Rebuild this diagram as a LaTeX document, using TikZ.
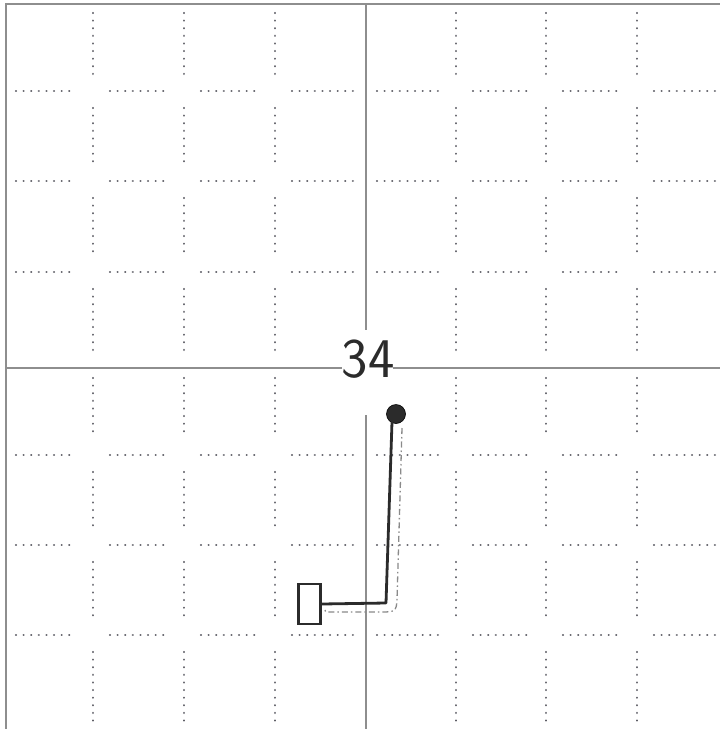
\documentclass[tikz,border=0pt]{standalone}
\usetikzlibrary{calc}
\definecolor{gridgray}{HTML}{8E8E8E}
\definecolor{dotgray}{HTML}{5E5E66}
\definecolor{ink}{HTML}{2B2B2B}
\definecolor{tracegray}{HTML}{8A8A8A}
\begin{document}
\begin{tikzpicture}[x=1pt,y=-1pt,
  solidgrid/.style={draw=gridgray,line width=1.1pt},
  dotgrid/.style={draw=dotgray,line width=2.3pt,line cap=round,dash pattern=on 0.01pt off 7.6pt},
  inkline/.style={draw=ink,line width=2.8pt,line join=round,line cap=round},
  tracepath/.style={draw=tracegray,line width=1.3pt,dash pattern=on 6pt off 3pt on 1.5pt off 3pt},
  labeltext/.style={font=\sffamily\fontsize{56}{56}\selectfont,text=ink,inner sep=0pt},
]
\useasboundingbox (0,0) rectangle (720,729);
\fill[white] (0,0) rectangle (720,729);
% sheet border (left and top)
\draw[solidgrid] (6,729) -- (6,4) -- (720,4);
% main axes, broken around the label
\draw[solidgrid] (366,4) -- (366,330);
\draw[solidgrid] (366,415) -- (366,729);
\draw[solidgrid] (6,368) -- (342,368);
\draw[solidgrid] (393,368) -- (720,368);
% dotted grid, vertical
\foreach \x in {93,184,275,456,546,637}{
  \foreach \a/\b in {13/74,108/164,198/255,289/357,378/438,472/528,562/618,652/727}{
    \draw[dotgrid] (\x,\a) -- (\x,\b);
  }
}
% dotted grid, horizontal
\foreach \y in {91,181,272,455,545,635}{
  \foreach \a/\b in {16/76,110/167,201/258,292/356,377/439,473/529,563/620,654/720}{
    \draw[dotgrid] (\a,\y) -- (\b,\y);
  }
}
% label
\node[labeltext] (lbl) at (368,359) {34};
% end dot
\node[circle,fill=ink,draw=black,line width=0.6pt,minimum size=19pt,inner sep=0pt] (dot) at (396,414) {};
% box
\node[draw=ink,line width=2.6pt,minimum width=22pt,minimum height=40pt,inner sep=0pt] (box) at (309.5,604) {};
% solid path
\coordinate (bend) at (386,603);
\coordinate (lineTop) at (392,422);
\draw[inkline] (box.east) -- (bend) -- (lineTop);
% dash-dot trace
\coordinate (tstart) at (402,428);
\coordinate (tend) at (325,607);
\draw[tracepath] (tstart) -- (397,600) .. controls (396,611) .. (386,612) -- (329,612) .. controls (325,612) .. (tend);
\end{tikzpicture}
\end{document}
